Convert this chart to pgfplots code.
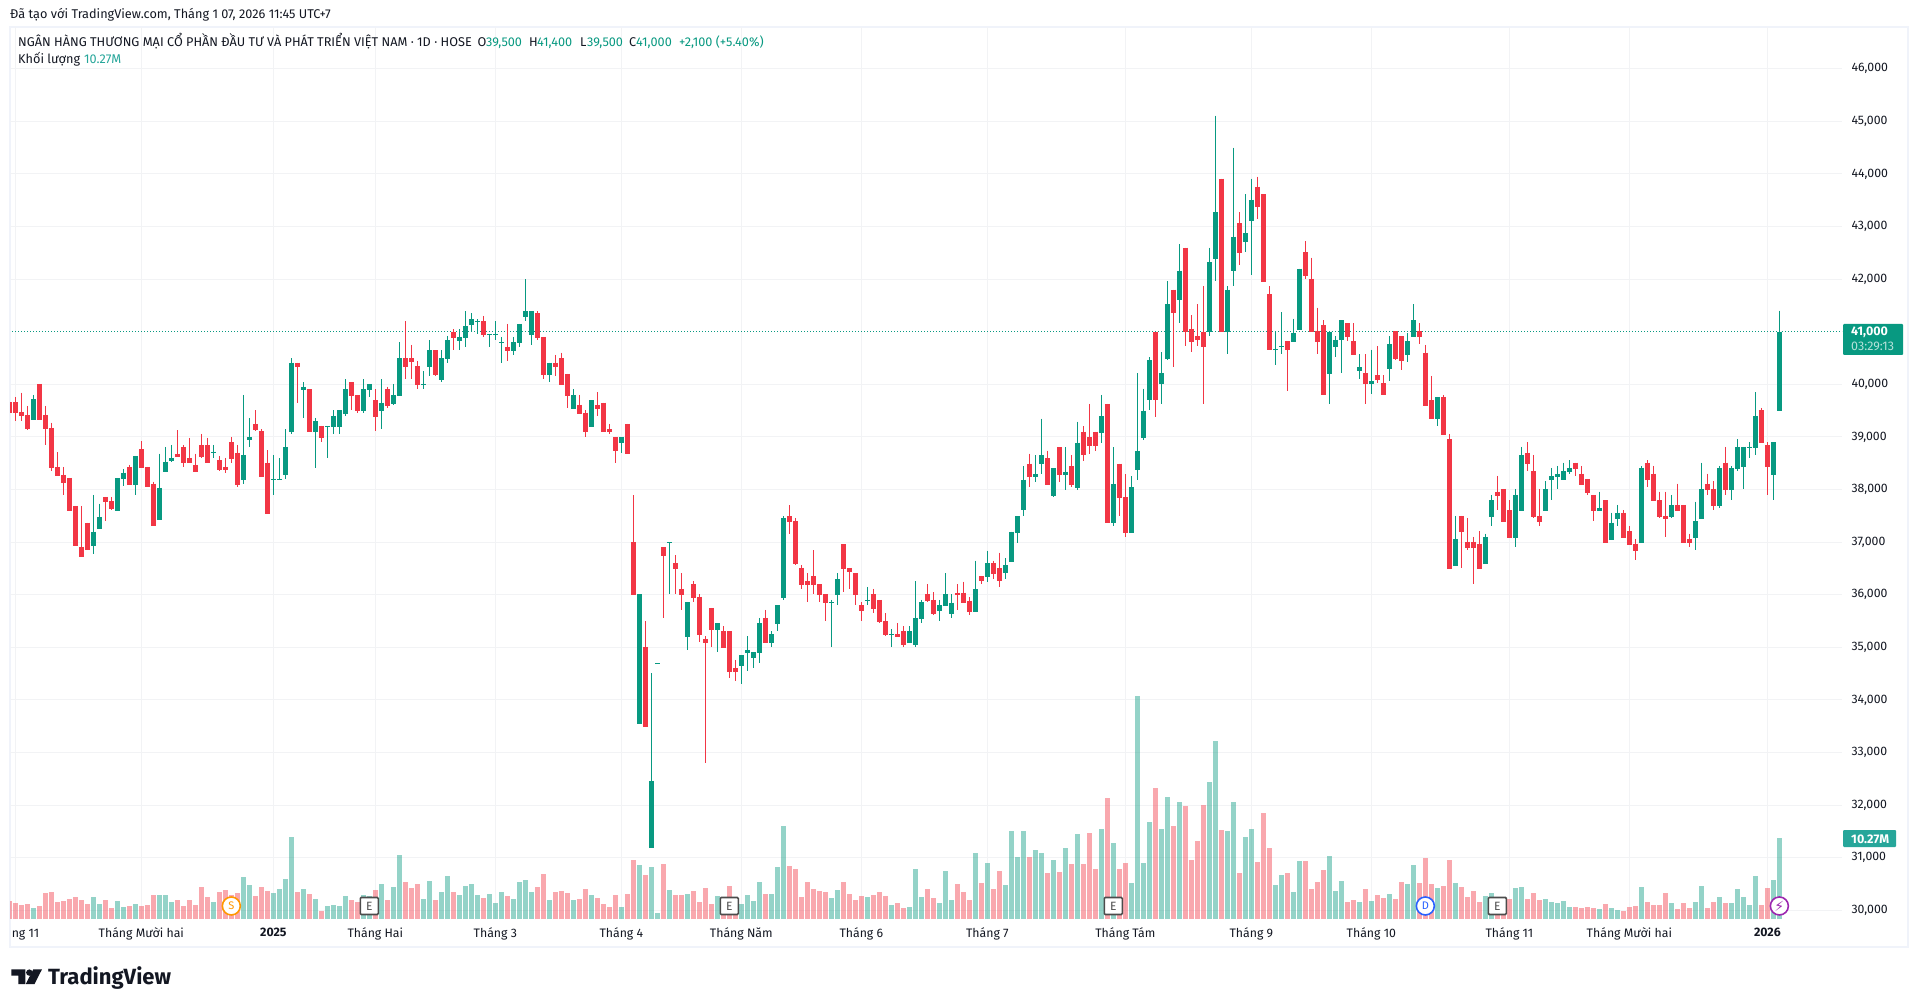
\documentclass[border=0pt]{standalone}
\usepackage{fontspec}
\setmainfont{Fira Sans}
\newfontfamily\symfont{DejaVu Sans}
\usepackage{pgfplots}
\usepackage{pgfplotstable}
\pgfplotsset{compat=1.18}

\definecolor{upc}{HTML}{089981}
\definecolor{downc}{HTML}{F23645}
\definecolor{txt}{HTML}{131722}
\definecolor{gridc}{HTML}{F2F3F5}
\definecolor{framec}{HTML}{F0F3FA}
\definecolor{voltag}{HTML}{26A69A}
\definecolor{evtS}{HTML}{FF9800}
\definecolor{evtD}{HTML}{2962FF}
\definecolor{evtB}{HTML}{9C27B0}

% n open high low close volume(M)
\pgfplotstableread{
n o h l c v
3 39320 39800 39320 39720 1.39
13 36930 37900 36780 37200 2.79
14 37250 37730 37250 37480 1.90
17 37590 38220 37590 38220 2.28
18 38200 38390 38070 38320 1.52
20 38090 38640 37900 38640 1.90
24 37420 38680 37420 38030 3.04
25 38340 38810 38340 38530 3.04
26 38540 38850 38530 38600 2.16
33 38700 38850 38600 38720 2.16
38 38180 39800 38110 38660 5.33
39 38940 39360 38810 39000 4.31
43 38180 38660 37900 38200 3.30
44 38180 38600 38180 38200 3.80
45 38280 39150 38200 38810 5.07
46 39090 40500 39060 40410 10.40
48 39890 40040 39360 39950 3.80
50 39090 39360 38410 39300 2.54
52 39190 39210 38600 39210 1.65
53 39190 39510 39060 39400 1.78
54 39190 39510 39060 39510 1.65
55 39440 40100 39400 39910 2.92
58 39490 40100 39460 39910 3.04
59 39890 40010 39760 40010 2.92
61 39490 40100 39150 39650 4.44
63 39630 40010 39610 39800 4.06
64 39780 40800 39780 40500 8.11
68 39990 40250 39910 40010 2.54
69 40330 40840 40160 40650 4.82
71 40080 40650 40040 40500 3.42
72 40480 40920 40410 40840 5.45
74 40820 41050 40650 40900 3.04
75 40880 41390 40710 41110 4.18
76 41130 41350 40990 41240 4.44
77 41180 41240 40960 41200 3.04
79 40940 40960 40710 40960 3.17
80 40940 41200 40840 40960 2.03
81 40780 40900 40410 40800 3.42
83 40630 40900 40560 40800 2.54
84 40780 41150 40710 41150 4.69
85 41280 42000 41200 41390 4.95
86 40940 41390 40750 41390 3.42
89 40180 40410 40040 40410 2.41
93 39530 39910 39530 39800 2.41
96 39190 39700 39190 39700 3.04
101 38890 39000 38700 39000 1.52
104 33540 36010 33540 36010 6.85
106 31190 34510 31190 32460 6.59
107 34680 34700 34680 34700 0.76
109 36980 37000 36010 37000 3.68
112 35200 35860 34950 35860 3.17
117 35330 35460 34910 35460 2.92
121 34650 34850 34300 34850 1.90
122 34890 35210 34550 34950 3.04
123 34800 34910 34610 34910 2.28
124 34890 35560 34700 35460 4.69
126 35080 35310 35010 35250 3.17
127 35440 35800 35310 35800 6.59
128 35940 37490 35900 37460 11.79
136 35840 35900 35010 35860 2.66
137 35990 36410 35800 36300 3.68
142 35880 36150 35800 35900 2.79
146 35230 35350 35010 35250 1.78
149 35080 35400 35080 35310 1.52
150 35040 36260 35010 35560 6.34
151 35540 35900 35460 35860 2.79
154 35690 35900 35500 35800 2.03
155 35780 36410 35780 36010 6.09
156 35630 36010 35550 35850 2.41
160 35680 36650 35680 36100 8.37
162 36330 36840 36250 36600 7.10
165 36420 36690 36290 36560 4.31
166 36630 37200 36630 37200 11.16
167 37180 37490 36990 37490 7.86
168 37620 38440 37490 38190 11.16
170 38230 38650 38150 38290 8.75
171 38480 39350 38290 38650 8.37
173 37870 38400 37850 38400 7.48
175 38270 38800 38000 38340 9.00
177 38020 39290 38000 38890 10.78
181 39080 39800 38890 39390 11.41
183 37370 38800 37300 38100 9.64
186 37180 38250 37180 38040 4.56
187 38380 40210 38190 38740 28.28
188 38970 39920 38950 39500 7.10
189 39700 40510 39520 40460 12.30
191 40000 40610 39620 40210 11.41
192 40490 41960 40460 41520 15.47
194 41600 42660 41160 42160 14.84
199 40990 42600 40910 42320 17.37
200 42390 45110 41960 43270 22.57
202 40990 41860 40570 41800 11.16
203 42150 44500 41860 42810 14.84
205 42700 43610 42510 42870 10.40
206 43100 43910 42070 43510 11.41
210 40650 41000 40360 40670 4.31
211 40700 41370 40570 40720 5.58
213 40800 41250 40800 40970 3.42
214 41040 42200 41040 42200 7.35
219 40190 41000 39620 41000 7.99
220 40700 40910 40510 40850 3.55
221 40840 41220 40210 41220 4.82
224 40250 40570 40110 40320 2.16
226 40000 40660 39810 40060 2.28
229 40300 40910 40060 40760 3.17
232 40550 40970 40420 40820 4.44
233 40890 41520 40890 41220 6.85
237 39340 39760 39210 39760 3.93
240 36550 37500 36550 37060 4.56
245 36590 37160 36590 37100 2.92
246 37480 37900 37310 37800 3.30
250 37080 38010 36910 37900 3.93
251 37590 38810 37590 38660 4.06
255 37590 38160 37590 38010 2.54
256 38180 38410 37800 38260 2.16
257 38240 38450 38010 38300 2.03
258 38180 38510 38180 38350 2.28
259 38340 38560 38300 38410 1.52
264 37590 37960 37590 37650 1.27
266 37040 37560 37040 37370 1.39
267 37440 37710 37310 37560 1.14
271 36990 38450 36990 38410 4.06
276 37480 37900 37460 37710 2.03
280 37080 37770 36850 37400 2.16
281 37440 38510 37440 38010 4.18
284 37690 38450 37650 38410 2.79
286 37990 38450 37800 38410 2.03
287 38390 38960 38350 38810 3.80
288 38430 38810 38010 38810 2.79
289 38790 38900 38600 38810 1.78
290 38790 39850 38660 39400 5.45
293 38280 38900 37800 38900 4.95
294 39500 41400 39500 41000 10.27
}\upcandles

\pgfplotstableread{
n o h l c v
-1 39660 39660 39460 39460 2.28
0 39660 39760 39300 39460 2.03
1 39470 39840 39300 39400 1.78
2 39420 39590 39130 39150 1.90
4 40010 40010 39320 39320 1.65
5 39420 39590 38850 39150 3.30
6 39170 39270 38350 38410 3.42
7 38430 38710 38260 38260 2.16
8 38280 38430 37900 38130 2.28
9 38220 38220 37590 37590 2.54
10 37690 37690 36930 36930 2.79
11 36910 37690 36720 36720 2.41
12 37370 37370 36850 36850 1.90
15 37860 37860 37400 37770 2.41
16 37780 37860 37610 37630 1.39
19 38430 38470 38090 38090 1.65
21 38770 38920 38410 38410 1.65
22 38430 38430 38050 38050 1.78
23 38110 38150 37310 37310 3.04
27 38680 39130 38620 38620 2.41
28 38810 38850 38430 38510 1.65
29 38600 38980 38510 38510 2.41
30 38470 38680 38340 38340 1.78
31 38850 39060 38600 38620 4.06
32 38850 38980 38510 38510 2.79
34 38560 38640 38350 38370 3.42
35 38430 38600 38320 38370 3.68
36 38900 39000 38510 38580 3.04
37 38700 38850 38050 38090 3.30
40 39250 39510 39110 39130 2.92
41 39110 39150 38240 38240 4.06
42 38510 38750 37540 37540 3.55
47 40410 40410 39650 40330 3.42
49 39910 39910 39090 39090 3.17
51 39210 39210 38900 38980 1.01
56 40040 40040 39510 39780 2.41
57 39800 39800 39460 39490 2.16
60 39700 39910 39110 39380 3.68
62 39910 39950 39550 39590 2.41
65 40500 41200 40100 40330 4.69
66 40500 40750 40100 40420 3.93
67 40350 40440 39910 39990 4.44
70 40650 40650 40160 40180 2.41
73 40990 41050 40650 40880 3.42
78 41200 41300 40900 40940 2.66
82 40710 41150 40440 40630 2.92
87 41350 41390 40840 40880 4.06
88 40900 40900 40100 40180 5.71
90 40410 40560 40160 40330 3.42
91 40500 40600 39990 39990 3.55
92 40200 40200 39550 39780 3.30
94 39610 39800 39440 39440 2.54
95 39460 39510 39000 39090 3.80
97 39610 39850 39400 39530 2.66
98 39650 39650 39090 39090 1.90
99 39150 39250 39060 39090 1.52
100 39000 39000 38510 38730 3.04
102 39250 39250 38680 38680 3.17
103 37000 37890 35990 35990 7.48
105 35010 35500 33490 33490 5.58
108 36900 36900 35560 36730 6.97
110 36600 36750 36010 36490 3.04
111 36110 36410 35710 35990 3.04
113 36200 36260 35860 35940 3.55
114 35960 36010 35100 35230 2.16
115 35160 35210 32800 35080 3.93
116 35750 35750 35010 35330 1.90
118 35310 35400 34990 34990 2.41
119 35310 35310 34420 34530 4.18
120 34610 34760 34360 34530 1.99
125 35560 35710 35080 35080 3.17
129 37490 37700 37150 37380 6.72
130 37400 37460 36560 36580 6.34
131 36510 36560 36110 36180 2.79
132 36260 36410 35860 36180 4.69
133 36350 36850 36010 36180 3.80
134 36200 36200 35860 35990 3.55
135 36010 36010 35500 35840 3.42
138 36960 36960 36050 36490 4.69
139 36510 36510 36110 36430 3.17
140 36410 36410 35800 35990 2.41
141 35800 35860 35500 35690 2.92
143 36010 36110 35650 35730 3.04
144 35900 35900 35460 35480 3.42
145 35500 35650 35210 35230 2.92
147 35250 35460 35200 35200 2.03
148 35310 35400 35010 35040 1.39
152 36010 36200 35860 35880 3.80
153 35900 36050 35610 35630 2.66
157 36040 36200 35700 35990 4.44
158 36040 36250 35840 35840 3.42
159 35890 35950 35610 35680 2.41
161 36350 36350 36200 36270 4.56
163 36600 36650 36290 36390 3.80
164 36500 36800 36140 36270 6.09
169 38490 38680 38040 38230 7.86
172 38590 38740 38080 38080 5.83
174 38800 38800 38150 38270 5.96
176 38440 38650 38040 38080 6.97
178 39100 39200 38550 38660 6.97
179 38990 39630 38680 38820 10.90
180 39100 39100 38740 38820 6.34
182 39630 39630 37370 37370 15.34
184 38490 38490 37490 37830 6.34
185 37850 38290 37090 37180 7.10
190 41000 41000 39370 39700 16.61
193 41800 41800 40320 41350 11.79
195 42600 42600 40720 40990 14.33
196 41060 41310 40610 40800 7.48
197 40910 41520 40720 40840 9.89
198 41000 41860 39620 40700 14.45
201 43910 43910 40990 40990 11.28
204 43060 43270 42260 42490 5.83
207 43760 43950 43150 43380 7.23
208 43610 43610 41940 41940 13.44
209 41710 41860 40650 40650 9.00
212 40820 40820 39870 40650 5.83
215 42510 42720 42010 42050 7.35
216 42010 42410 40990 40990 3.80
217 41010 41460 40570 40800 4.69
218 41120 41220 39790 39790 6.21
222 41160 41160 40820 40890 2.16
223 40820 41160 40550 40550 2.41
225 40210 40570 39620 40000 3.80
227 40170 40720 40020 40090 3.04
228 40020 40170 39790 39790 2.66
230 41010 41010 40460 40490 2.54
231 40910 40910 40270 40440 4.69
234 41010 41160 40760 40890 4.56
235 40600 40750 39590 39590 7.73
236 39700 40160 39340 39340 4.44
238 39760 39800 39040 39040 4.18
239 38960 39060 36490 36490 7.48
241 37500 37500 36510 37200 4.06
242 37010 37460 36850 36890 2.79
243 37010 37100 36210 36890 3.55
244 36970 37210 36490 36490 2.16
247 37960 38260 37610 37880 1.99
248 38010 38010 37390 37390 1.56
249 37610 37800 37080 37080 2.54
252 38700 38900 38350 38490 2.54
253 38350 38660 37460 37480 3.30
254 37500 38010 37310 37390 2.41
260 38510 38510 38260 38390 1.52
261 38300 38450 38090 38090 1.39
262 38200 38200 37900 37940 1.52
263 37900 37900 37400 37590 1.39
265 37800 37800 36990 36990 1.90
268 37560 37610 37080 37080 1.01
269 37210 37310 36950 36950 1.52
270 36970 37060 36660 36840 1.65
272 38510 38560 38050 38180 2.16
273 38300 38450 37780 37780 1.78
274 37800 37960 37460 37480 1.78
275 37500 37960 37100 37440 3.30
277 37710 38110 37590 37590 1.27
278 37710 37710 36990 36990 2.03
279 37060 37160 36910 36990 1.39
282 38110 38300 37900 37990 1.39
283 38010 38160 37610 37690 2.16
285 38510 38810 37900 37990 2.03
291 39510 39550 38890 38890 1.78
292 38850 38900 37900 38430 3.93
}\downcandles

\begin{document}
\begin{tikzpicture}[x=1pt,y=1pt]
\path[use as bounding box,fill=white] (0,0) rectangle (1918,1007);

% frame, y measured from the top of the picture in this scope
\begin{scope}[shift={(0pt,1007pt)},y=-1pt]
\draw[framec,line width=2pt] (10,27) rectangle (1908,947);
\end{scope}

% price pane
\begin{axis}[
    at={(10pt,88pt)},anchor=south west,
    scale only axis,width=1832pt,height=892pt,
    xmin=-0.888,xmax=304.44,
    ymin=29835,ymax=46793,
    axis line style={draw=none},
    major tick length=0pt,
    grid=major,
    grid style={color=gridc,line width=1pt},
    xtick={0,21,43,60,80,101,121,141,162,185,206,226,249,269,292},
    xticklabels={,Tháng Mười hai,\textbf{2025},Tháng Hai,Tháng 3,Tháng 4,Tháng Năm,Tháng 6,Tháng 7,Tháng Tám,Tháng 9,Tháng 10,Tháng 11,Tháng Mười hai,\textbf{2026}},
    ytick={30000,31000,32000,33000,34000,35000,36000,37000,38000,39000,40000,42000,43000,44000,45000,46000},
    yticklabel pos=right,
    scaled y ticks=false,
    /pgf/number format/1000 sep={,},
    /pgf/number format/assume math mode=true,
    tick label style={font=\fontsize{12.3}{15}\selectfont,text=txt},
    yticklabel style={anchor=west,xshift=6pt},
    xticklabel style={anchor=north,yshift=-5.4pt},
]
\addplot[upc,dash pattern=on 1pt off 2pt,line width=1pt,forget plot] coordinates {(-1,41000) (305,41000)};
\addplot[draw=none,no marks,forget plot,
    error bars/.cd,y dir=minus,y explicit,error mark=none,
    error bar style={line width=1pt,color=upc}]
    table[x=n,y=h,y error minus expr=\thisrow{h}-\thisrow{l}] {\upcandles};
\addplot[draw=none,no marks,forget plot,
    error bars/.cd,y dir=minus,y explicit,error mark=none,
    error bar style={line width=5pt,color=upc}]
    table[x=n,y=c,y error minus expr=\thisrow{c}-\thisrow{o}] {\upcandles};
\addplot[draw=none,no marks,forget plot,
    error bars/.cd,y dir=minus,y explicit,error mark=none,
    error bar style={line width=1pt,color=downc}]
    table[x=n,y=h,y error minus expr=\thisrow{h}-\thisrow{l}] {\downcandles};
\addplot[draw=none,no marks,forget plot,
    error bars/.cd,y dir=minus,y explicit,error mark=none,
    error bar style={line width=5pt,color=downc}]
    table[x=n,y=o,y error minus expr=\thisrow{o}-\thisrow{c}] {\downcandles};
\end{axis}

% volume pane, same box
\begin{axis}[
    at={(10pt,88pt)},anchor=south west,
    scale only axis,width=1832pt,height=892pt,
    xmin=-0.888,xmax=304.44,
    ymin=0,ymax=113.1,
    hide axis,
]
\addplot[ycomb,mark=none,forget plot,line width=5pt,draw=upc,opacity=0.43] table[x=n,y=v] {\upcandles};
\addplot[ycomb,mark=none,forget plot,line width=5pt,draw=downc,opacity=0.43] table[x=n,y=v] {\downcandles};
\tikzset{evt/.style={circle,draw=#1,line width=1.6pt,fill=white,text=#1,minimum size=18pt,inner sep=0pt,font=\fontsize{11}{12}\selectfont}}
\tikzset{earn/.style={rectangle,rounded corners=1pt,draw=black!70,line width=1.6pt,fill=white,text=black!70,minimum width=18pt,minimum height=17pt,inner sep=0pt,font=\fontsize{12}{13}\selectfont}}
\node[evt=evtS] at (axis cs:36,1.65) {S};
\node[earn] at (axis cs:59,1.65) {E};
\node[earn] at (axis cs:119,1.65) {E};
\node[earn] at (axis cs:183,1.65) {E};
\node[earn] at (axis cs:247,1.65) {E};
\node[evt=evtD] at (axis cs:235,1.65) {D};
\node[evt=evtB] at (axis cs:294,1.65) {\fontsize{14}{14}\selectfont\symfont ⚡};
\end{axis}

\begin{scope}[shift={(0pt,1007pt)},y=-1pt]
% clipped first month label
\begin{scope}
\clip (11,925) rectangle (80,945);
\node[anchor=base,inner sep=0pt,text=txt,font=\fontsize{12.3}{15}\selectfont] at (15.33,937.5) {Tháng 11};
\end{scope}

\tikzset{lab/.style={anchor=base west,inner sep=0pt,font=\fontsize{12.7}{14}\selectfont,text=txt}}
\node[lab] at (10,19) {Đã tạo với TradingView.com, Tháng 1 07, 2026 11:45 UTC+7};
\node[lab] at (18,47) {NGÂN HÀNG THƯƠNG MẠI CỔ PHẦN ĐẦU TƯ VÀ PHÁT TRIỂN VIỆT NAM · 1D · HOSE};
\node[lab] at (477.5,47) {O};
\node[lab,text=upc] at (486,47) {39,500};
\node[lab] at (529,47) {H};
\node[lab,text=upc] at (537,47) {41,400};
\node[lab] at (580,47) {L};
\node[lab,text=upc] at (587,47) {39,500};
\node[lab] at (629,47) {C};
\node[lab,text=upc] at (636,47) {41,000};
\node[lab,text=upc] at (679,47) {+2,100 (+5.40\%)};
\node[lab] at (18,64) {Khối lượng};
\node[lab,text=voltag] at (84,64) {10.27M};

% last price and volume tags
\fill[upc,rounded corners=1pt] (1843,324) rectangle (1903,355);
\node[anchor=base west,inner sep=0pt,text=white,font=\fontsize{12.5}{15}\selectfont\bfseries] at (1851,336) {41,000};
\node[anchor=base west,inner sep=0pt,text=white,opacity=0.7,font=\fontsize{12.5}{15}\selectfont] at (1851,351) {03:29:13};
\fill[voltag,rounded corners=1pt] (1843,830) rectangle (1896,847);
\node[anchor=base west,inner sep=0pt,text=white,font=\fontsize{12.5}{15}\selectfont\bfseries] at (1851,843) {10.27M};

% logo
\fill[txt] (11.4,969.3) -- (25.3,969.3) -- (25.3,984) -- (18.4,984) -- (18.4,975.6) -- (11.4,975.6) -- cycle;
\fill[txt] (29.3,972.6) circle (3.2);
\fill[txt] (33.3,969.3) -- (42,969.3) -- (34.5,984) -- (25.8,984) -- cycle;
\node[anchor=base west,inner sep=0pt,text=txt,font=\fontsize{22}{24}\selectfont\bfseries] at (48,984) {TradingView};
\end{scope}
\end{tikzpicture}
\end{document}
